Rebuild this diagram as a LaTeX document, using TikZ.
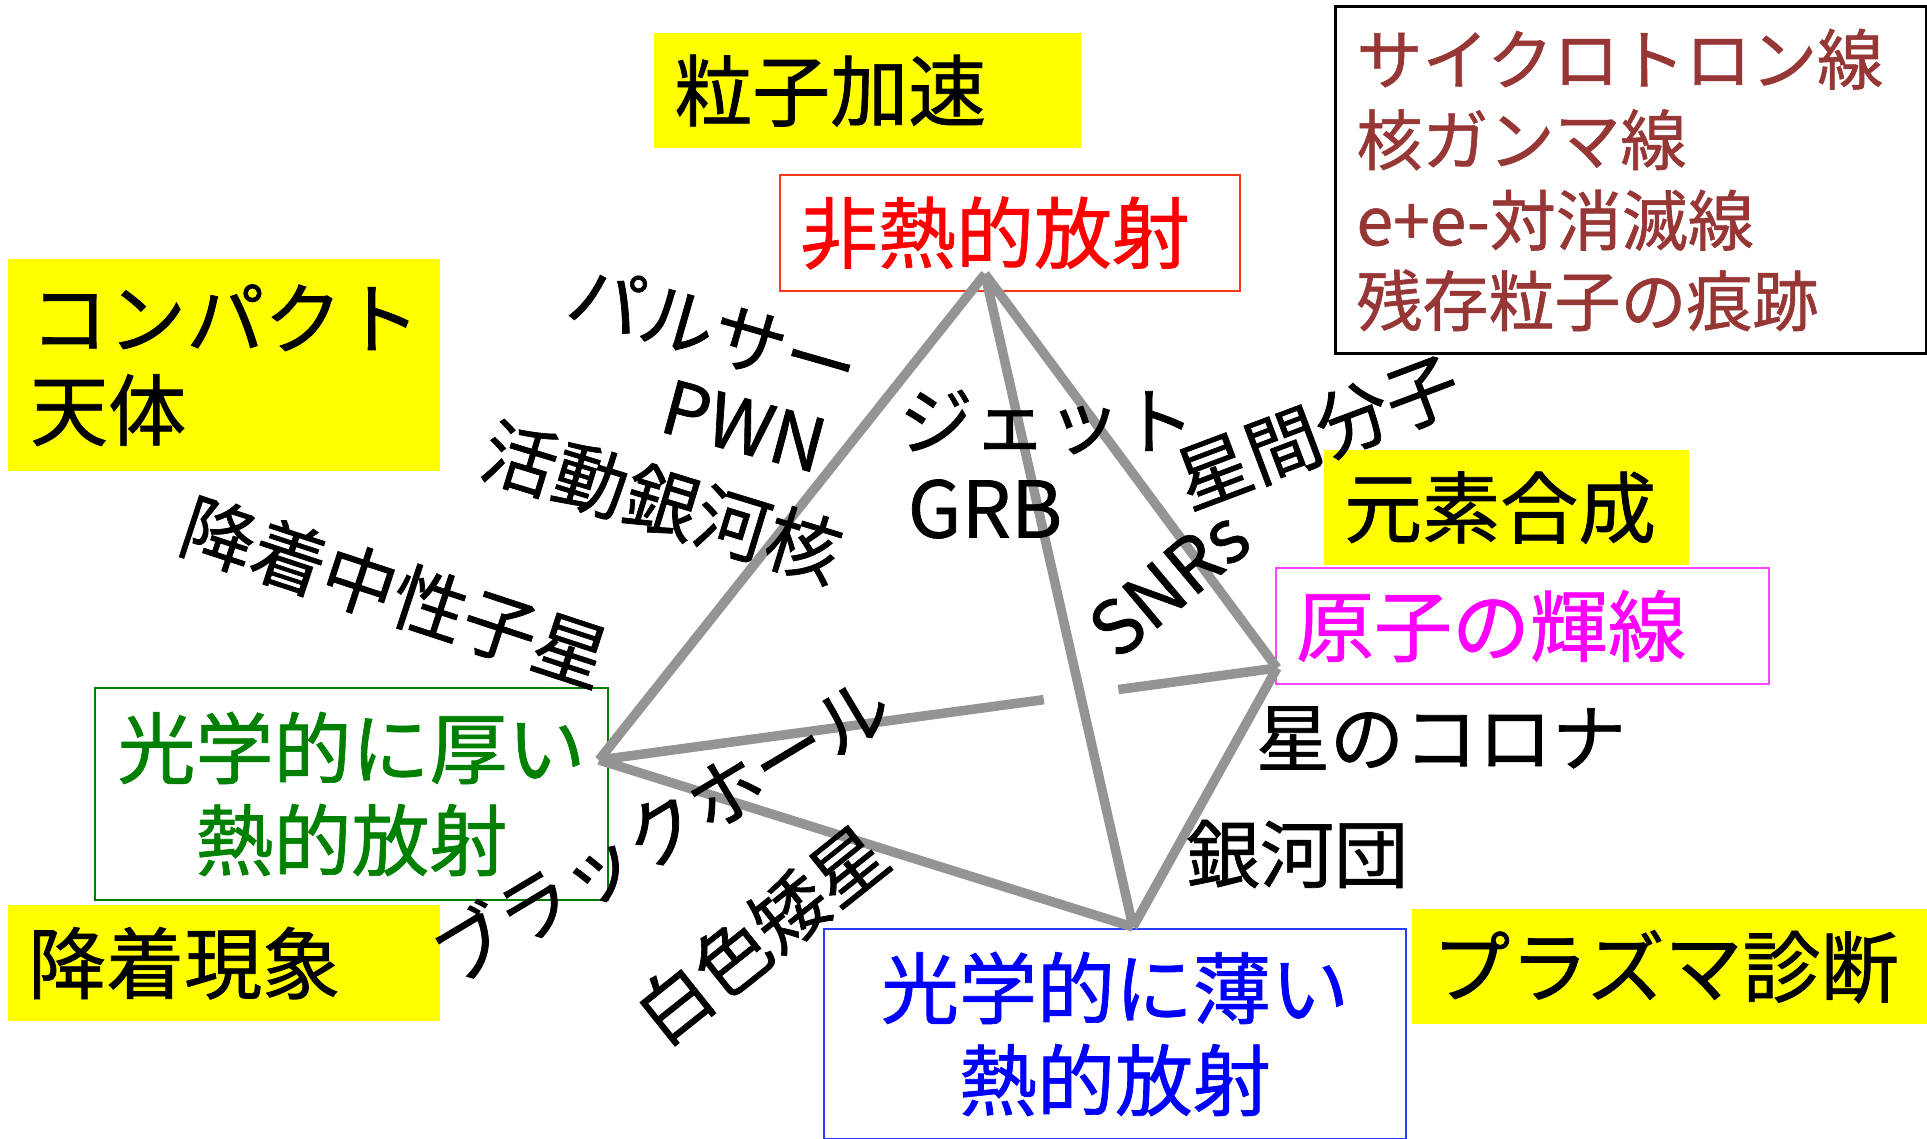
\documentclass[tikz,border=0pt]{standalone}
\usepackage{fontspec}
\usetikzlibrary{calc}
\newfontfamily\jp{Noto Sans CJK JP}[BoldFont={Noto Sans CJK JP}, BoldFeatures={FakeBold=0.9}]
\newcommand\jpsize[2]{\fontsize{#1}{#2}\selectfont}
\definecolor{tetragray}{RGB}{148,148,148}
\definecolor{linered}{RGB}{150,55,53}
\definecolor{redborder}{RGB}{250,55,25}
\definecolor{magborder}{RGB}{255,70,255}
\definecolor{magtext}{RGB}{255,0,255}
\definecolor{redtext}{RGB}{255,0,0}
\definecolor{bluetext}{RGB}{0,0,255}
\definecolor{blueborder}{RGB}{40,60,255}
\definecolor{greentext}{RGB}{0,128,0}
\definecolor{ybg}{RGB}{255,255,0}
\begin{document}
\begin{tikzpicture}[x=1pt,y=-1pt,
  lbl/.style={font=\jp\bfseries\jpsize{74}{90}, inner sep=0},
  ybox/.style={fill=ybg, draw=none, anchor=north west, align=left, inner ysep=0, font=\jp\bfseries\jpsize{78}{92}},
  cbox/.style={anchor=north west, inner ysep=0, line width=2, font=\jp\bfseries\jpsize{78}{92}},
  tetra/.style={draw=tetragray, line width=9.5}
]
\useasboundingbox[fill=white] (0,0) rectangle (1927,1139);

% yellow category boxes
\node[ybox, minimum width=427, minimum height=115, text width=387, inner xsep=20] (acc) at (654,33) {粒子加速};
\node[ybox, minimum width=432, minimum height=212, text width=388, inner xsep=22] (cpt) at (8,259) {コンパクト\\天体};
\node[ybox, minimum width=365, minimum height=115, text width=325, inner xsep=20] (nuc) at (1324,450) {元素合成};
\node[ybox, minimum width=432, minimum height=116, text width=392, inner xsep=20] (accr) at (8,905) {降着現象};
\node[ybox, minimum width=515, minimum height=115, text width=475, inner xsep=20] (plas) at (1412,909) {プラズマ診断};

% emission boxes
\node[cbox, draw=redborder, text=redtext, minimum width=460, minimum height=116, text width=420, inner xsep=20, align=left] (nth) at (779,174) {非熱的放射};
\node[cbox, draw=magborder, text=magtext, minimum width=493, minimum height=116, text width=453, inner xsep=20, align=left] (atom) at (1275,567) {原子の輝線};
\node[cbox, draw=greentext, text=greentext, minimum width=513, minimum height=212, text width=493, inner xsep=10, align=center] (thick) at (94,687) {光学的に厚い\\熱的放射};
\node[cbox, draw=blueborder, text=bluetext, minimum width=582, minimum height=210, text width=562, inner xsep=10, align=center] (thin) at (823,928) {光学的に薄い\\熱的放射};
\node[cbox, draw=black, line width=3, text=linered, font=\jp\bfseries\jpsize{66}{80.5}, minimum width=591, minimum height=347, text width=549, inner xsep=21, align=left] (lines) at (1334,5) {サイクロトロン線\\核ガンマ線\\e+e-対消滅線\\残存粒子の痕跡};

% tetrahedron
\coordinate (vT) at (985,274);
\coordinate (vL) at (599,760);
\coordinate (vR) at (1277,668);
\coordinate (vB) at (1133,927);
\coordinate (gapA) at ($(vL)!0.656!(vR)$);
\coordinate (gapB) at ($(vL)!0.766!(vR)$);
\draw[tetra] (vT) -- (vL);
\draw[tetra] (vT) -- (vB);
\draw[tetra] (vT) -- (vR);
\draw[tetra] (vL) -- (vB);
\draw[tetra] (vR) -- (vB);
\draw[tetra] (vL) -- (gapA);
\draw[tetra] (gapB) -- (vR);

% object labels
\node[lbl, rotate=-16] (pulsar) at (714,330) {パルサー};
\node[lbl, rotate=-15] (pwn) at (744,426) {PWN};
\node[lbl, rotate=-17] (agn) at (662,502) {活動銀河核};
\node[lbl, rotate=-18.2] (ans) at (395,592) {降着中性子星};
\node[lbl, rotate=31] (bh) at (661,829) {ブラックホール};
\node[lbl, rotate=38.6] (wd) at (761,934) {白色矮星};
\node[lbl, rotate=20.6] (ism) at (1318,432) {星間分子};
\node[lbl, rotate=40] (snr) at (1169,583) {SNRs};
\node[lbl] (jet) at (1047,422) {ジェット};
\node[lbl, font=\jp\bfseries\jpsize{78}{90}] (grb) at (985,509) {GRB};
\node[lbl] (corona) at (1441,738) {星のコロナ};
\node[lbl] (cluster) at (1297,854) {銀河団};
\end{tikzpicture}
\end{document}
